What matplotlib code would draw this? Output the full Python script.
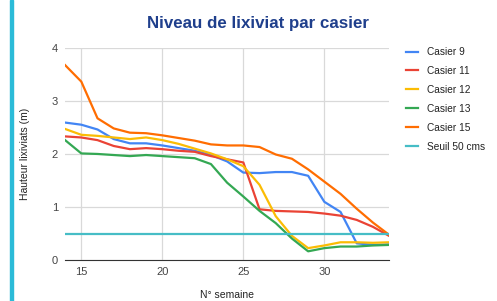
import matplotlib.pyplot as plt
from matplotlib.patches import Rectangle

plt.rcParams["font.family"] = ["Liberation Sans", "DejaVu Sans"]

weeks = list(range(14, 35))

casier_9 = [2.59, 2.55, 2.46, 2.28, 2.20, 2.20, 2.16, 2.11, 2.06, 1.98, 1.86,
            1.65, 1.64, 1.66, 1.66, 1.59, 1.10, 0.91, 0.32, 0.29, 0.30]
casier_11 = [2.33, 2.31, 2.26, 2.15, 2.09, 2.11, 2.09, 2.06, 2.04, 1.96, 1.90,
             1.84, 0.96, 0.93, 0.92, 0.91, 0.88, 0.84, 0.76, 0.63, 0.46]
casier_12 = [2.47, 2.36, 2.34, 2.31, 2.28, 2.31, 2.26, 2.19, 2.10, 2.01, 1.90,
             1.77, 1.42, 0.83, 0.46, 0.23, 0.28, 0.34, 0.34, 0.33, 0.34]
casier_13 = [2.26, 2.01, 2.00, 1.98, 1.96, 1.98, 1.96, 1.94, 1.92, 1.81, 1.46,
             1.20, 0.93, 0.70, 0.41, 0.17, 0.23, 0.26, 0.26, 0.28, 0.29]
casier_15 = [3.67, 3.36, 2.67, 2.48, 2.40, 2.39, 2.35, 2.30, 2.25, 2.18, 2.16,
             2.16, 2.13, 1.99, 1.91, 1.71, 1.48, 1.25, 0.97, 0.71, 0.48]
seuil = [0.5] * len(weeks)

labels = ["Casier 9", "Casier 11", "Casier 12", "Casier 13", "Casier 15", "Seuil 50 cms"]
colors = ["#4285F4", "#EA4335", "#FBBC04", "#34A853", "#FF6D01", "#46BDC6"]
series = [casier_9, casier_11, casier_12, casier_13, casier_15, seuil]

fig = plt.figure(figsize=(4.97, 3.01), dpi=100)
# cyan bar on the left edge of the screenshot
fig.patches.append(Rectangle((10 / 497, 0), 3 / 497, 1, transform=fig.transFigure,
                             color="#2BBBD8", zorder=0))

ax = fig.add_axes([0.131, 0.135, 0.652, 0.707])
for vals, lab, col in zip(series, labels, colors):
    ax.plot(weeks, vals, color=col, linewidth=1.6, label=lab)

ax.set_xlim(14, 34)
ax.set_ylim(0, 4)
ax.set_xticks([15, 20, 25, 30])
ax.set_yticks([0, 1, 2, 3, 4])
ax.grid(True, color="#d9d9d9", linewidth=0.9)
ax.set_axisbelow(True)
for side in ["top", "right", "left"]:
    ax.spines[side].set_visible(False)
ax.spines["bottom"].set_color("#333333")
ax.tick_params(length=0, labelsize=8, colors="#444444", pad=5)

ax.set_xlabel("N° semaine", fontsize=7.5, color="#222222", labelpad=9)
ax.set_ylabel("Hauteur lixiviats (m)", fontsize=7.5, color="#222222", labelpad=16)
fig.text(0.519, 0.922, "Niveau de lixiviat par casier", fontsize=12.2,
         fontweight="bold", color="#1F3F8C", ha="center", va="center")

ax.legend(loc="upper left", bbox_to_anchor=(1.025, 1.045), frameon=False,
          fontsize=7.3, handlelength=1.1, handletextpad=0.9, labelspacing=0.88,
          labelcolor="#222222")

fig.savefig("out.png", dpi=100)
